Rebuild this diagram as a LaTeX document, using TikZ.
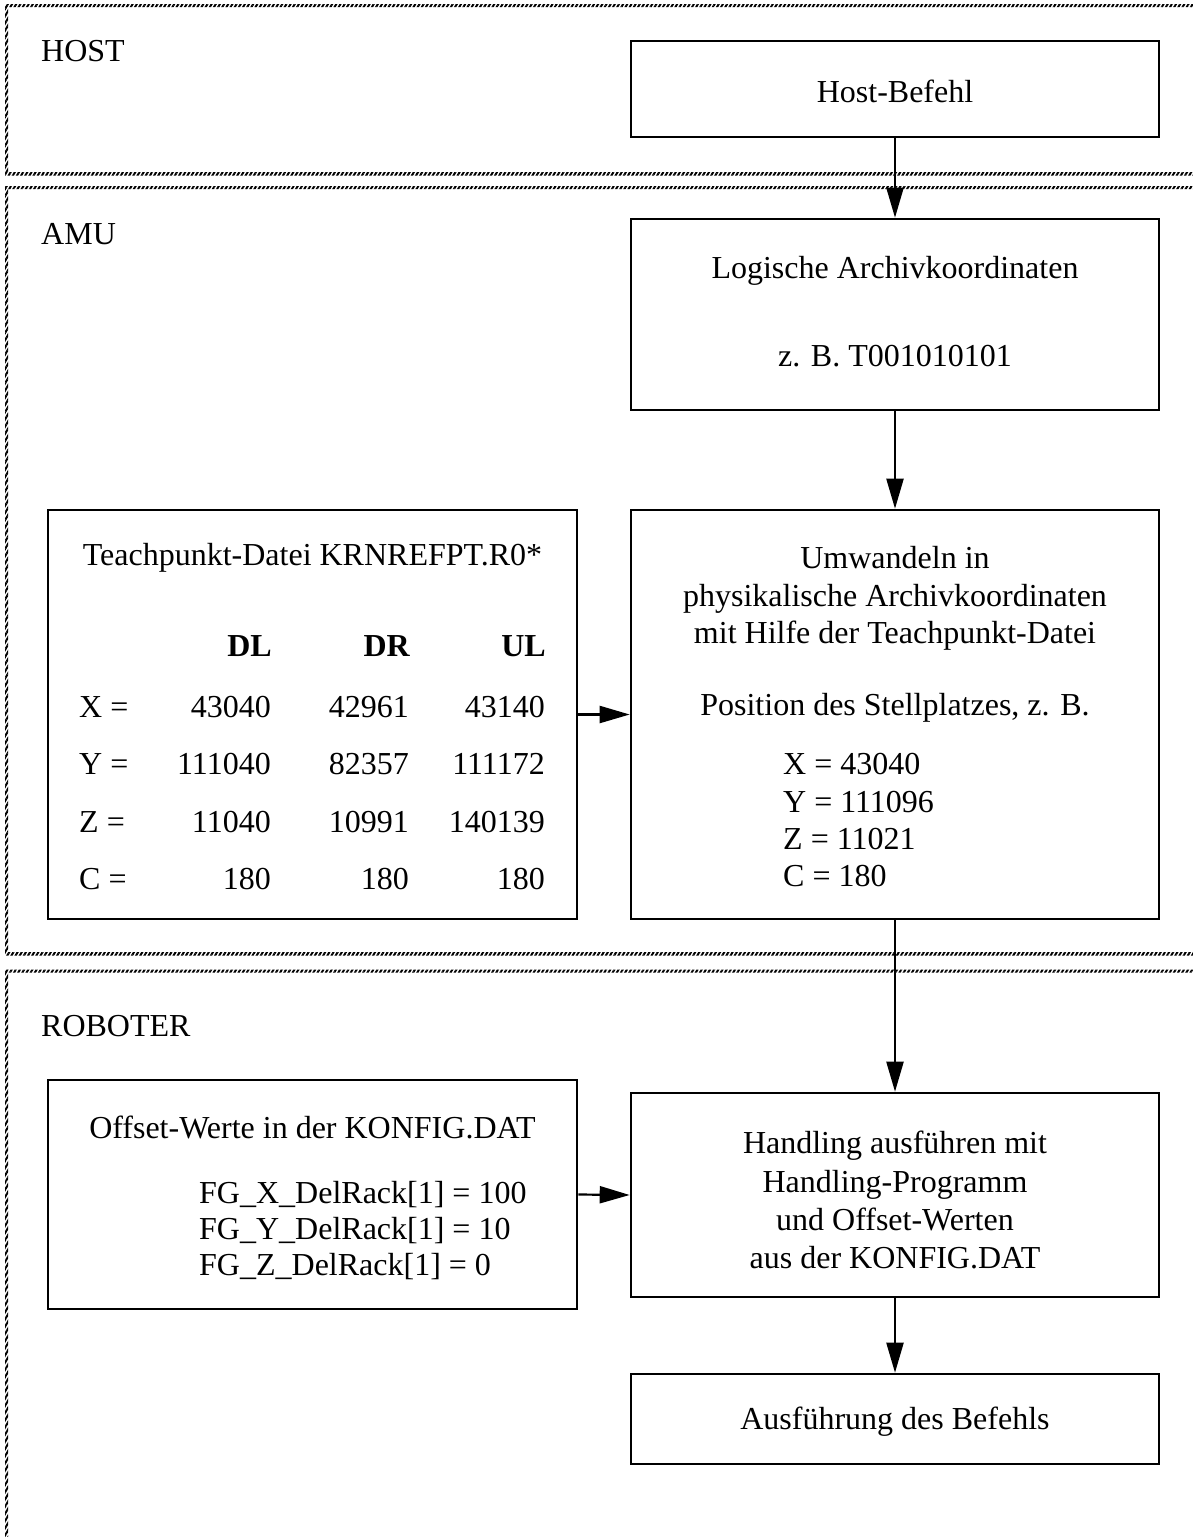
\documentclass[tikz,border=0pt]{standalone}
\usepackage{fontspec}
\setmainfont{Liberation Serif}
\usetikzlibrary{arrows.meta,patterns.meta}

\tikzset{
  txt/.style={inner sep=0pt, font=\fontsize{32}{38}\selectfont},
  box/.style={draw, line width=2.6pt, inner sep=0pt},
  flow/.style={line width=2.2pt, -{Triangle[length=30pt,width=17pt]}},
  hatch/.style={pattern={Lines[angle=60,distance=3.6pt,line width=2pt]}, even odd rule},
}

\begin{document}
\begin{tikzpicture}[x=1pt,y=-1pt]
\clip (0,0) rectangle (1193,1537);
\fill[white] (0,0) rectangle (1193,1537);

% layer frames with hatched borders (open to the right)
\fill[hatch] (5,4) rectangle (1220,175.5) (8.2,7.2) rectangle (1220,172.2);
\fill[hatch] (5,186) rectangle (1220,955.5) (8.2,189.2) rectangle (1220,952.2);
\fill[hatch] (5,969.5) rectangle (1220,1600) (8.2,972.7) rectangle (1220,1600);

% layer titles
\node[txt, anchor=base west] (lhost) at (41,61) {HOST};
\node[txt, anchor=base west] (lamu)  at (41,244) {AMU};
\node[txt, anchor=base west] (lrob)  at (41,1036) {ROBOTER};

% process boxes
\node[box, minimum width=528pt, minimum height=96pt]  (host)  at (895,89) {};
\node[box, minimum width=528pt, minimum height=191pt] (logi)  at (895,314.5) {};
\node[box, minimum width=529pt, minimum height=409pt] (teach) at (312.5,714.5) {};
\node[box, minimum width=528pt, minimum height=409pt] (umw)   at (895,714.5) {};
\node[box, minimum width=529pt, minimum height=229pt] (offs)  at (312.5,1194.5) {};
\node[box, minimum width=528pt, minimum height=204pt] (handl) at (895,1195) {};
\node[box, minimum width=528pt, minimum height=90pt]  (ausf)  at (895,1419) {};

% box texts
\node[txt, anchor=base] (thost) at (895,102) {Host-Befehl};

\node[txt, anchor=base] (tlogi1) at (895,278) {Logische Archivkoordinaten};
\node[txt, anchor=base] (tlogi2) at (895,366) {z. B. T001010101};

\node[txt, anchor=base] (tteach) at (312.5,565) {Teachpunkt-Datei KRNREFPT.R0*};
\node[txt, anchor=base east, font=\fontsize{32}{38}\selectfont\bfseries] (hdl) at (272,656) {DL};
\node[txt, anchor=base east, font=\fontsize{32}{38}\selectfont\bfseries] (hdr) at (410,656) {DR};
\node[txt, anchor=base east, font=\fontsize{32}{38}\selectfont\bfseries] (hul) at (546,656) {UL};

\node[txt, anchor=base west] (rx) at (79,717) {X =};
\node[txt, anchor=base east] (rx1) at (271,717) {43040};
\node[txt, anchor=base east] (rx2) at (409,717) {42961};
\node[txt, anchor=base east] (rx3) at (545,717) {43140};

\node[txt, anchor=base west] (ry) at (79,774) {Y =};
\node[txt, anchor=base east] (ry1) at (271,774) {111040};
\node[txt, anchor=base east] (ry2) at (409,774) {82357};
\node[txt, anchor=base east] (ry3) at (545,774) {111172};

\node[txt, anchor=base west] (rz) at (79,832) {Z =};
\node[txt, anchor=base east] (rz1) at (271,832) {11040};
\node[txt, anchor=base east] (rz2) at (409,832) {10991};
\node[txt, anchor=base east] (rz3) at (545,832) {140139};

\node[txt, anchor=base west] (rc) at (79,889) {C =};
\node[txt, anchor=base east] (rc1) at (271,889) {180};
\node[txt, anchor=base east] (rc2) at (409,889) {180};
\node[txt, anchor=base east] (rc3) at (545,889) {180};

\node[txt, anchor=base] (tumw1) at (895,568) {Umwandeln in};
\node[txt, anchor=base] (tumw2) at (895,606) {physikalische Archivkoordinaten};
\node[txt, anchor=base] (tumw3) at (895,643) {mit Hilfe der Teachpunkt-Datei};
\node[txt, anchor=base] (tumw4) at (895,715) {Position des Stellplatzes, z. B.};
\node[txt, anchor=base west] (px) at (783,774) {X = 43040};
\node[txt, anchor=base west] (py) at (783,812) {Y = 111096};
\node[txt, anchor=base west] (pz) at (783,849) {Z = 11021};
\node[txt, anchor=base west] (pc) at (783,886) {C = 180};

\node[txt, anchor=base] (toffs) at (312.5,1138) {Offset-Werte in der KONFIG.DAT};
\node[txt, anchor=base west] (fgx) at (199,1203) {FG\_X\_DelRack[1] = 100};
\node[txt, anchor=base west] (fgy) at (199,1239) {FG\_Y\_DelRack[1] = 10};
\node[txt, anchor=base west] (fgz) at (199,1275) {FG\_Z\_DelRack[1] = 0};

\node[txt, anchor=base] (th1) at (895,1153) {Handling ausführen mit};
\node[txt, anchor=base] (th2) at (895,1192) {Handling-Programm};
\node[txt, anchor=base] (th3) at (895,1230) {und Offset-Werten};
\node[txt, anchor=base] (th4) at (895,1268) {aus der KONFIG.DAT};

\node[txt, anchor=base] (tausf) at (895,1429) {Ausführung des Befehls};

% flow connectors
\draw[flow] (host.south) -- (logi.north);
\draw[flow] (logi.south) -- (umw.north);
\draw[flow] (umw.south) -- (handl.north);
\draw[flow] (handl.south) -- (ausf.north);
\draw[flow] (teach.east) -- (umw.west);
\draw[flow] (offs.east) -- (handl.west);
\end{tikzpicture}
\end{document}
